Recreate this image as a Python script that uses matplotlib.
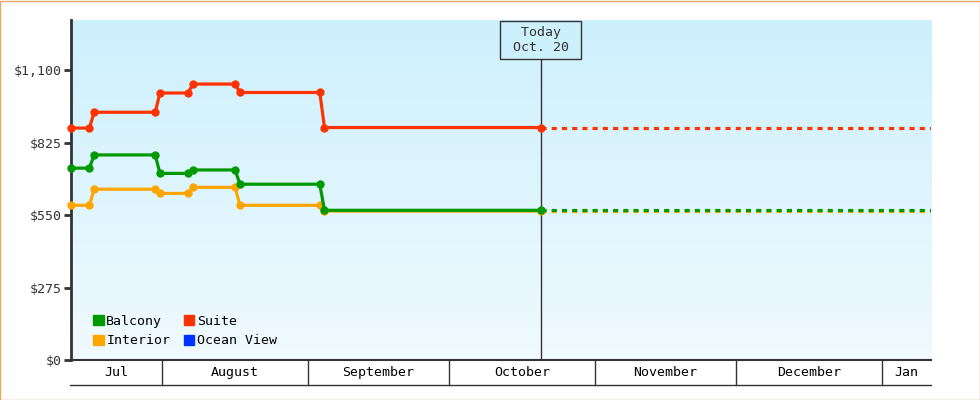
import datetime as dt
import numpy as np
import matplotlib
matplotlib.use("Agg")
import matplotlib.pyplot as plt
import matplotlib.dates as mdates
from matplotlib.patches import Patch

# price history (step changes drawn as short slopes between consecutive points)
dates = ["2023-07-12 12:00", "2023-07-16 12:00", "2023-07-17 12:00", "2023-07-30 12:00",
         "2023-07-31 12:00", "2023-08-06 12:00", "2023-08-07 12:00", "2023-08-16 12:00",
         "2023-08-17 12:00", "2023-09-03 12:00", "2023-09-04 12:00", "2023-10-20 12:00"]
suite = [880, 880, 940, 940, 1013, 1013, 1047, 1047, 1015, 1015, 882, 882]
balcony = [728, 728, 778, 778, 708, 708, 721, 721, 667, 667, 568, 568]
interior = [587, 587, 648, 648, 632, 632, 655, 655, 587, 587, 565, 565]

today = "2023-10-20 12:00"
x_start, x_end = "2023-07-12 14:00", "2024-01-11 12:00"
months = ["2023-07-01", "2023-08-01", "2023-09-01", "2023-10-01",
          "2023-11-01", "2023-12-01", "2024-01-01", "2024-02-01"]
month_labels = ["Jul", "August", "September", "October", "November", "December", "Jan"]
yticks = [0, 275, 550, 825, 1100]
ytick_labels = ["$0", "$275", "$550", "$825", "$1,100"]

c_balcony, c_suite, c_interior, c_ocean = "#009900", "#ff3300", "#ffa500", "#0033ff"
plt.rcParams["font.family"] = ["DejaVu Sans Mono"]
dark = "#333333"
fs = 9.5

def d(s):
    return mdates.date2num(dt.datetime.fromisoformat(s))

xd = [d(s) for s in dates]
t = d(today)
x0, x1 = d(x_start), d(x_end)

fig = plt.figure(figsize=(9.8, 4), dpi=100)
ax = fig.add_axes([71 / 980, 40 / 400, 860 / 980, 340 / 400])
ax.set_xlim(x0, x1)
ax.set_ylim(0, 1290)

# background gradient, light blue at top fading to almost white
grad = np.linspace(0, 1, 256).reshape(-1, 1)
cmap = matplotlib.colors.LinearSegmentedColormap.from_list("bg", ["#cdf0fd", "#f0faff"])
ax.imshow(grad, cmap=cmap, aspect="auto", extent=[0, 1, 0, 1], origin="upper",
          transform=ax.transAxes, zorder=0)

lw = 2.3
for vals, col in [(suite, c_suite), (interior, c_interior), (balcony, c_balcony)]:
    ax.plot(xd, vals, color=col, lw=lw, marker="o", ms=5, zorder=3, clip_on=False)
    ax.plot([t, x1], [vals[-1], vals[-1]], color=col, lw=lw, ls=(0, (1.6, 1.6)),
            dash_capstyle="butt", zorder=3)

# today marker
ax.axvline(t, ymin=0, ymax=(360 - 60) / 340, color=dark, lw=1, zorder=2)
ax.text(t, 0.983, " Today \n Oct. 20 ", transform=ax.get_xaxis_transform(),
        ha="center", va="top", fontsize=fs, color=dark, linespacing=1.25,
        bbox=dict(boxstyle="square,pad=0.35", fc="#cdf0fd", ec=dark, lw=1), zorder=4)

# axes styling
for s in ["top", "right"]:
    ax.spines[s].set_visible(False)
ax.spines["left"].set_color(dark)
ax.spines["left"].set_linewidth(2)
ax.spines["bottom"].set_color(dark)
ax.spines["bottom"].set_linewidth(1.5)
ax.set_yticks(yticks)
ax.set_yticklabels(ytick_labels, fontsize=fs, color=dark)
ax.tick_params(axis="y", length=5, width=2, color=dark, pad=2)
ax.set_xticks([])

# month band under the axis
xt = ax.get_xaxis_transform()
band = -25 / 340
ax.plot([x0 - 1 / 4.7, x1], [band, band], transform=xt, color=dark, lw=1, clip_on=False)
m = [d(s) for s in months]
for i, lab in enumerate(month_labels):
    a, b = max(m[i], x0), min(m[i + 1], x1)
    if m[i] > x0:
        ax.plot([m[i], m[i]], [0, band], transform=xt, color=dark, lw=1, clip_on=False)
    ax.text((a + b) / 2, band / 2, lab, transform=xt, ha="center", va="center",
            fontsize=fs, color="black")

handles = [Patch(color=c_balcony, label="Balcony"), Patch(color=c_interior, label="Interior"),
           Patch(color=c_suite, label="Suite"), Patch(color=c_ocean, label="Ocean View")]
ax.legend(handles=handles, ncol=2, loc="lower left", bbox_to_anchor=(0.0135, 0.006),
          frameon=False, fontsize=fs, handlelength=0.8, handleheight=0.8,
          handletextpad=0.2, columnspacing=1.0, labelspacing=0.5, borderpad=0.3)

# figure border
fig.patches.append(matplotlib.patches.Rectangle((0.0005, 0.001), 0.999, 0.997,
                   transform=fig.transFigure, fill=False, ec="#e8a860", lw=1))

fig.savefig("out.png", dpi=100)
